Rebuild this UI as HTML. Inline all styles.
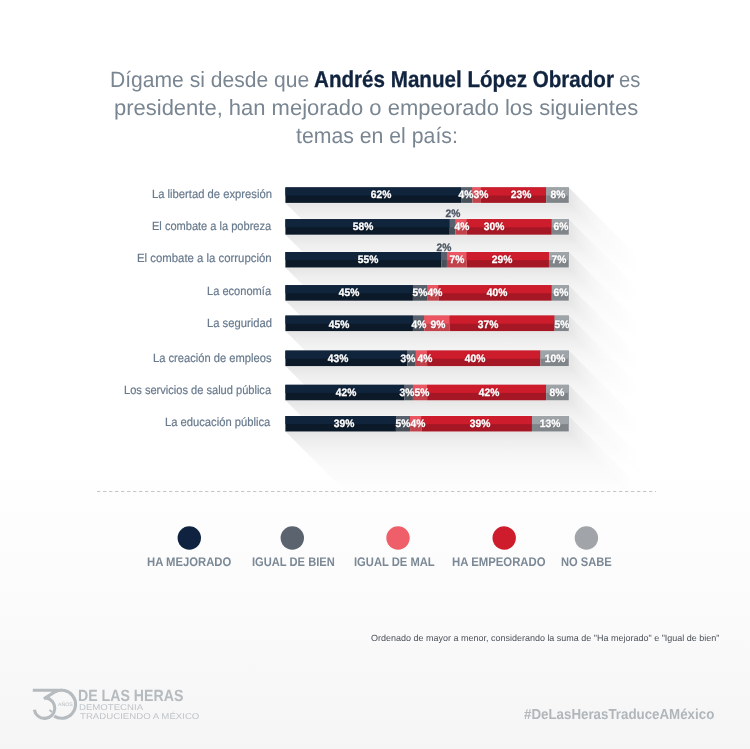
<!DOCTYPE html>
<html><head><meta charset="utf-8"><title>Encuesta</title>
<style>
html,body{margin:0;padding:0;overflow:hidden}
html{width:750px;height:749px}
body{width:750px;height:749px;overflow:hidden;position:relative;font-family:"Liberation Sans",sans-serif;text-rendering:geometricPrecision;
 background:linear-gradient(to bottom,#ffffff 0px,#ffffff 479.6px,#fefefe 479.6px,#fbfbfb 600px,#f5f5f5 749px)}
svg{position:absolute;left:0;top:0}
.t{position:absolute;white-space:nowrap;margin:0;padding:0}
.ttl{color:#798692}
.tb{color:#10233f;font-weight:700;-webkit-text-stroke:0.3px #10233f}
.lab{color:#687a8d;-webkit-text-stroke:0.2px #687a8d}
.val{color:#fff;font-weight:700;-webkit-text-stroke:0.3px #fff;text-shadow:0 0 1.5px rgba(0,0,0,.35)}
.val.dk{color:#4d5562;-webkit-text-stroke:0.3px #4d5562;text-shadow:none}
.leg{color:#7b8895;font-weight:700}
.fn{color:#4b5159}
.hash{color:#b1b6ba;font-weight:700}
.lg1{color:#b6bbbf;font-weight:700}
.lg2{color:#bfc4c8}
.lg3{color:#b6bbbf}
</style></head><body>
<svg width="750" height="749" viewBox="0 0 750 749">
<defs><linearGradient id="sv" x1="0" y1="0" x2="0" y2="1"><stop offset="0" stop-color="rgb(228,228,228)"/><stop offset="0.03" stop-color="rgb(231,231,231)"/><stop offset="0.06" stop-color="rgb(233,233,233)"/><stop offset="0.1" stop-color="rgb(236,236,236)"/><stop offset="0.15" stop-color="rgb(239,239,239)"/><stop offset="0.2" stop-color="rgb(241,241,241)"/><stop offset="0.25" stop-color="rgb(243,243,243)"/><stop offset="0.3" stop-color="rgb(245,245,245)"/><stop offset="0.4" stop-color="rgb(248,248,248)"/><stop offset="0.5" stop-color="rgb(250,250,250)"/><stop offset="0.6" stop-color="rgb(251,251,251)"/><stop offset="0.7" stop-color="rgb(252,252,252)"/><stop offset="0.85" stop-color="rgb(254,254,254)"/><stop offset="1" stop-color="rgb(255,255,255)"/></linearGradient><linearGradient id="sh" x1="0" y1="0" x2="1" y2="0"><stop offset="0" stop-color="rgb(228,228,228)"/><stop offset="0.03" stop-color="rgb(231,231,231)"/><stop offset="0.06" stop-color="rgb(233,233,233)"/><stop offset="0.1" stop-color="rgb(236,236,236)"/><stop offset="0.15" stop-color="rgb(239,239,239)"/><stop offset="0.2" stop-color="rgb(241,241,241)"/><stop offset="0.25" stop-color="rgb(243,243,243)"/><stop offset="0.3" stop-color="rgb(245,245,245)"/><stop offset="0.4" stop-color="rgb(248,248,248)"/><stop offset="0.5" stop-color="rgb(250,250,250)"/><stop offset="0.6" stop-color="rgb(251,251,251)"/><stop offset="0.7" stop-color="rgb(252,252,252)"/><stop offset="0.85" stop-color="rgb(254,254,254)"/><stop offset="1" stop-color="rgb(255,255,255)"/></linearGradient></defs>
<g style="mix-blend-mode:darken">
<polygon style="mix-blend-mode:darken" fill="url(#sv)" points="285.4,202.9 568.8,202.9 640.8,274.9 357.4,274.9"/>
<polygon style="mix-blend-mode:darken" fill="url(#sh)" points="568.8,187.4 640.8,259.4 640.8,275.9 568.8,203.9"/>
<polygon style="mix-blend-mode:darken" fill="url(#sv)" points="285.4,234.7 568.8,234.7 640.8,306.7 357.4,306.7"/>
<polygon style="mix-blend-mode:darken" fill="url(#sh)" points="568.8,219.2 640.8,291.2 640.8,307.7 568.8,235.7"/>
<polygon style="mix-blend-mode:darken" fill="url(#sv)" points="285.4,267.5 568.8,267.5 640.8,339.5 357.4,339.5"/>
<polygon style="mix-blend-mode:darken" fill="url(#sh)" points="568.8,252.0 640.8,324.0 640.8,340.5 568.8,268.5"/>
<polygon style="mix-blend-mode:darken" fill="url(#sv)" points="285.4,300.7 568.8,300.7 640.8,372.7 357.4,372.7"/>
<polygon style="mix-blend-mode:darken" fill="url(#sh)" points="568.8,285.2 640.8,357.2 640.8,373.7 568.8,301.7"/>
<polygon style="mix-blend-mode:darken" fill="url(#sv)" points="285.4,331.1 568.8,331.1 640.8,403.1 357.4,403.1"/>
<polygon style="mix-blend-mode:darken" fill="url(#sh)" points="568.8,315.6 640.8,387.6 640.8,404.1 568.8,332.1"/>
<polygon style="mix-blend-mode:darken" fill="url(#sv)" points="285.4,366.1 568.8,366.1 640.8,438.1 357.4,438.1"/>
<polygon style="mix-blend-mode:darken" fill="url(#sh)" points="568.8,350.6 640.8,422.6 640.8,439.1 568.8,367.1"/>
<polygon style="mix-blend-mode:darken" fill="url(#sv)" points="285.4,400.3 568.8,400.3 640.8,472.3 357.4,472.3"/>
<polygon style="mix-blend-mode:darken" fill="url(#sh)" points="568.8,384.8 640.8,456.8 640.8,473.3 568.8,401.3"/>
<polygon style="mix-blend-mode:darken" fill="url(#sv)" points="285.4,431.5 568.8,431.5 640.8,503.5 357.4,503.5"/>
<polygon style="mix-blend-mode:darken" fill="url(#sh)" points="568.8,416.0 640.8,488.0 640.8,504.5 568.8,432.5"/>
</g>
<rect x="284.7" y="186.70000000000002" width="284.79999999999995" height="16.9" fill="#fff" opacity="0.35"/>
<rect x="284.7" y="218.5" width="284.79999999999995" height="16.9" fill="#fff" opacity="0.35"/>
<rect x="284.7" y="251.3" width="284.79999999999995" height="16.9" fill="#fff" opacity="0.35"/>
<rect x="284.7" y="284.5" width="284.79999999999995" height="16.9" fill="#fff" opacity="0.35"/>
<rect x="284.7" y="314.90000000000003" width="284.79999999999995" height="16.9" fill="#fff" opacity="0.35"/>
<rect x="284.7" y="349.90000000000003" width="284.79999999999995" height="16.9" fill="#fff" opacity="0.35"/>
<rect x="284.7" y="384.1" width="284.79999999999995" height="16.9" fill="#fff" opacity="0.35"/>
<rect x="284.7" y="415.3" width="284.79999999999995" height="16.9" fill="#fff" opacity="0.35"/>
<rect x="285.40" y="187.4" width="175.71" height="15.5" fill="#0b1929"/>
<rect x="285.40" y="187.4" width="175.71" height="8.15" fill="#10243c"/>
<rect x="461.11" y="187.4" width="11.34" height="15.5" fill="#474f59"/>
<rect x="461.11" y="187.4" width="11.34" height="8.15" fill="#58616d"/>
<rect x="472.44" y="187.4" width="8.50" height="15.5" fill="#c2424c"/>
<rect x="472.44" y="187.4" width="8.50" height="8.15" fill="#ec5662"/>
<rect x="480.95" y="187.4" width="65.18" height="15.5" fill="#a51724"/>
<rect x="480.95" y="187.4" width="65.18" height="8.15" fill="#cd1c2c"/>
<rect x="546.13" y="187.4" width="22.67" height="15.5" fill="#80858a"/>
<rect x="546.13" y="187.4" width="22.67" height="8.15" fill="#9fa4a9"/>
<rect x="285.40" y="219.2" width="164.37" height="15.5" fill="#0b1929"/>
<rect x="285.40" y="219.2" width="164.37" height="8.15" fill="#10243c"/>
<rect x="449.77" y="219.2" width="5.67" height="15.5" fill="#474f59"/>
<rect x="449.77" y="219.2" width="5.67" height="8.15" fill="#58616d"/>
<rect x="455.44" y="219.2" width="11.34" height="15.5" fill="#c2424c"/>
<rect x="455.44" y="219.2" width="11.34" height="8.15" fill="#ec5662"/>
<rect x="466.78" y="219.2" width="85.02" height="15.5" fill="#a51724"/>
<rect x="466.78" y="219.2" width="85.02" height="8.15" fill="#cd1c2c"/>
<rect x="551.80" y="219.2" width="17.00" height="15.5" fill="#80858a"/>
<rect x="551.80" y="219.2" width="17.00" height="8.15" fill="#9fa4a9"/>
<rect x="285.40" y="252.0" width="155.87" height="15.5" fill="#0b1929"/>
<rect x="285.40" y="252.0" width="155.87" height="8.15" fill="#10243c"/>
<rect x="441.27" y="252.0" width="5.67" height="15.5" fill="#474f59"/>
<rect x="441.27" y="252.0" width="5.67" height="8.15" fill="#58616d"/>
<rect x="446.94" y="252.0" width="19.84" height="15.5" fill="#c2424c"/>
<rect x="446.94" y="252.0" width="19.84" height="8.15" fill="#ec5662"/>
<rect x="466.78" y="252.0" width="82.19" height="15.5" fill="#a51724"/>
<rect x="466.78" y="252.0" width="82.19" height="8.15" fill="#cd1c2c"/>
<rect x="548.96" y="252.0" width="19.84" height="15.5" fill="#80858a"/>
<rect x="548.96" y="252.0" width="19.84" height="8.15" fill="#9fa4a9"/>
<rect x="285.40" y="285.2" width="127.53" height="15.5" fill="#0b1929"/>
<rect x="285.40" y="285.2" width="127.53" height="8.15" fill="#10243c"/>
<rect x="412.93" y="285.2" width="14.17" height="15.5" fill="#474f59"/>
<rect x="412.93" y="285.2" width="14.17" height="8.15" fill="#58616d"/>
<rect x="427.10" y="285.2" width="11.34" height="15.5" fill="#c2424c"/>
<rect x="427.10" y="285.2" width="11.34" height="8.15" fill="#ec5662"/>
<rect x="438.44" y="285.2" width="113.36" height="15.5" fill="#a51724"/>
<rect x="438.44" y="285.2" width="113.36" height="8.15" fill="#cd1c2c"/>
<rect x="551.80" y="285.2" width="17.00" height="15.5" fill="#80858a"/>
<rect x="551.80" y="285.2" width="17.00" height="8.15" fill="#9fa4a9"/>
<rect x="285.40" y="315.6" width="127.53" height="15.5" fill="#0b1929"/>
<rect x="285.40" y="315.6" width="127.53" height="8.15" fill="#10243c"/>
<rect x="412.93" y="315.6" width="11.34" height="15.5" fill="#474f59"/>
<rect x="412.93" y="315.6" width="11.34" height="8.15" fill="#58616d"/>
<rect x="424.27" y="315.6" width="25.51" height="15.5" fill="#c2424c"/>
<rect x="424.27" y="315.6" width="25.51" height="8.15" fill="#ec5662"/>
<rect x="449.77" y="315.6" width="104.86" height="15.5" fill="#a51724"/>
<rect x="449.77" y="315.6" width="104.86" height="8.15" fill="#cd1c2c"/>
<rect x="554.63" y="315.6" width="14.17" height="15.5" fill="#80858a"/>
<rect x="554.63" y="315.6" width="14.17" height="8.15" fill="#9fa4a9"/>
<rect x="285.40" y="350.6" width="121.86" height="15.5" fill="#0b1929"/>
<rect x="285.40" y="350.6" width="121.86" height="8.15" fill="#10243c"/>
<rect x="407.26" y="350.6" width="8.50" height="15.5" fill="#474f59"/>
<rect x="407.26" y="350.6" width="8.50" height="8.15" fill="#58616d"/>
<rect x="415.76" y="350.6" width="11.34" height="15.5" fill="#c2424c"/>
<rect x="415.76" y="350.6" width="11.34" height="8.15" fill="#ec5662"/>
<rect x="427.10" y="350.6" width="113.36" height="15.5" fill="#a51724"/>
<rect x="427.10" y="350.6" width="113.36" height="8.15" fill="#cd1c2c"/>
<rect x="540.46" y="350.6" width="28.34" height="15.5" fill="#80858a"/>
<rect x="540.46" y="350.6" width="28.34" height="8.15" fill="#9fa4a9"/>
<rect x="285.40" y="384.8" width="119.03" height="15.5" fill="#0b1929"/>
<rect x="285.40" y="384.8" width="119.03" height="8.15" fill="#10243c"/>
<rect x="404.43" y="384.8" width="8.50" height="15.5" fill="#474f59"/>
<rect x="404.43" y="384.8" width="8.50" height="8.15" fill="#58616d"/>
<rect x="412.93" y="384.8" width="14.17" height="15.5" fill="#c2424c"/>
<rect x="412.93" y="384.8" width="14.17" height="8.15" fill="#ec5662"/>
<rect x="427.10" y="384.8" width="119.03" height="15.5" fill="#a51724"/>
<rect x="427.10" y="384.8" width="119.03" height="8.15" fill="#cd1c2c"/>
<rect x="546.13" y="384.8" width="22.67" height="15.5" fill="#80858a"/>
<rect x="546.13" y="384.8" width="22.67" height="8.15" fill="#9fa4a9"/>
<rect x="285.40" y="416.0" width="110.53" height="15.5" fill="#0b1929"/>
<rect x="285.40" y="416.0" width="110.53" height="8.15" fill="#10243c"/>
<rect x="395.93" y="416.0" width="14.17" height="15.5" fill="#474f59"/>
<rect x="395.93" y="416.0" width="14.17" height="8.15" fill="#58616d"/>
<rect x="410.10" y="416.0" width="11.34" height="15.5" fill="#c2424c"/>
<rect x="410.10" y="416.0" width="11.34" height="8.15" fill="#ec5662"/>
<rect x="421.43" y="416.0" width="110.53" height="15.5" fill="#a51724"/>
<rect x="421.43" y="416.0" width="110.53" height="8.15" fill="#cd1c2c"/>
<rect x="531.96" y="416.0" width="36.84" height="15.5" fill="#80858a"/>
<rect x="531.96" y="416.0" width="36.84" height="8.15" fill="#9fa4a9"/>
<circle cx="189.3" cy="538" r="11.7" fill="#0f2340"/>
<circle cx="292.3" cy="538" r="11.7" fill="#5b636f"/>
<circle cx="398.0" cy="538" r="11.7" fill="#ef5f69"/>
<circle cx="504.2" cy="538" r="11.7" fill="#cf1c2c"/>
<circle cx="586.4" cy="538" r="11.7" fill="#a1a5a9"/>
<line x1="97" y1="491.5" x2="656" y2="491.5" stroke="#c4c6c8" stroke-width="1" stroke-dasharray="3.4 2.6"/>
<path d="M32.8,690.3 H57.2 L43.9,698.9" fill="none" stroke="#b6bbbf" stroke-width="3.1" stroke-linejoin="miter"/>
<path d="M45.93,697.90 A10.3,10.3 0 1 1 34.33,709.71" fill="none" stroke="#b6bbbf" stroke-width="3.1"/>
<path d="M52.2,711.9 L49.4,710.0" fill="none" stroke="#b6bbbf" stroke-width="1.8"/>
<path d="M55.03,691.94 A14.0,14.0 0 1 1 54.18,716.17" fill="none" stroke="#b6bbbf" stroke-width="3.1"/>
</svg>
<div class="t ttl" style="left:110.28px;top:69.10px;font-size:22px;line-height:22px;transform:scaleX(0.9583);transform-origin:0 0;">Dígame si desde que</div>
<div class="t ttl tb" style="left:313.91px;top:68.10px;font-size:23px;line-height:23px;transform:scaleX(0.8959);transform-origin:0 0;">Andrés Manuel López Obrador</div>
<div class="t ttl" style="left:618.77px;top:69.10px;font-size:22px;line-height:22px;transform:scaleX(0.9167);transform-origin:0 0;">es</div>
<div class="t ttl" style="left:113.60px;top:97.10px;font-size:22px;line-height:22px;transform:scaleX(0.9990);transform-origin:0 0;">presidente, han mejorado o empeorado los siguientes</div>
<div class="t ttl" style="left:296.11px;top:125.10px;font-size:22px;line-height:22px;transform:scaleX(0.9658);transform-origin:0 0;">temas en el país:</div>
<div class="t lab" style="left:151.51px;top:188.10px;font-size:12px;line-height:12px;transform:scaleX(0.9363);transform-origin:0 0;">La libertad de expresión</div>
<div class="t val" style="left:340.70px;width:80px;text-align:center;top:190.10px;font-size:10.8px;line-height:10.8px;transform:scaleX(.95);">62%</div>
<div class="t val" style="left:426.40px;width:80px;text-align:center;top:190.10px;font-size:10.8px;line-height:10.8px;transform:scaleX(.95);">4%</div>
<div class="t val" style="left:440.80px;width:80px;text-align:center;top:190.10px;font-size:10.8px;line-height:10.8px;transform:scaleX(.95);">3%</div>
<div class="t val" style="left:481.00px;width:80px;text-align:center;top:190.10px;font-size:10.8px;line-height:10.8px;transform:scaleX(.95);">23%</div>
<div class="t val" style="left:517.50px;width:80px;text-align:center;top:190.10px;font-size:10.8px;line-height:10.8px;transform:scaleX(.95);">8%</div>
<div class="t lab" style="left:151.53px;top:220.10px;font-size:12px;line-height:12px;transform:scaleX(0.9206);transform-origin:0 0;">El combate a la pobreza</div>
<div class="t val" style="left:323.30px;width:80px;text-align:center;top:222.10px;font-size:10.8px;line-height:10.8px;transform:scaleX(.95);">58%</div>
<div class="t val dk" style="left:412.60px;width:80px;text-align:center;top:209.10px;font-size:10.8px;line-height:10.8px;transform:scaleX(.95);">2%</div>
<div class="t val" style="left:422.00px;width:80px;text-align:center;top:222.10px;font-size:10.8px;line-height:10.8px;transform:scaleX(.95);">4%</div>
<div class="t val" style="left:454.00px;width:80px;text-align:center;top:222.10px;font-size:10.8px;line-height:10.8px;transform:scaleX(.95);">30%</div>
<div class="t val" style="left:520.80px;width:80px;text-align:center;top:222.10px;font-size:10.8px;line-height:10.8px;transform:scaleX(.95);">6%</div>
<div class="t lab" style="left:136.80px;top:252.10px;font-size:12px;line-height:12px;transform:scaleX(0.9476);transform-origin:0 0;">El combate a la corrupción</div>
<div class="t val" style="left:328.40px;width:80px;text-align:center;top:255.10px;font-size:10.8px;line-height:10.8px;transform:scaleX(.95);">55%</div>
<div class="t val dk" style="left:403.60px;width:80px;text-align:center;top:243.10px;font-size:10.8px;line-height:10.8px;transform:scaleX(.95);">2%</div>
<div class="t val" style="left:416.50px;width:80px;text-align:center;top:255.10px;font-size:10.8px;line-height:10.8px;transform:scaleX(.95);">7%</div>
<div class="t val" style="left:462.00px;width:80px;text-align:center;top:255.10px;font-size:10.8px;line-height:10.8px;transform:scaleX(.95);">29%</div>
<div class="t val" style="left:518.50px;width:80px;text-align:center;top:255.10px;font-size:10.8px;line-height:10.8px;transform:scaleX(.95);">7%</div>
<div class="t lab" style="left:206.62px;top:285.10px;font-size:12px;line-height:12px;transform:scaleX(0.9233);transform-origin:0 0;">La economía</div>
<div class="t val" style="left:309.20px;width:80px;text-align:center;top:288.10px;font-size:10.8px;line-height:10.8px;transform:scaleX(.95);">45%</div>
<div class="t val" style="left:380.00px;width:80px;text-align:center;top:288.10px;font-size:10.8px;line-height:10.8px;transform:scaleX(.95);">5%</div>
<div class="t val" style="left:394.80px;width:80px;text-align:center;top:288.10px;font-size:10.8px;line-height:10.8px;transform:scaleX(.95);">4%</div>
<div class="t val" style="left:457.00px;width:80px;text-align:center;top:288.10px;font-size:10.8px;line-height:10.8px;transform:scaleX(.95);">40%</div>
<div class="t val" style="left:520.80px;width:80px;text-align:center;top:288.10px;font-size:10.8px;line-height:10.8px;transform:scaleX(.95);">6%</div>
<div class="t lab" style="left:206.51px;top:317.10px;font-size:12px;line-height:12px;transform:scaleX(0.9357);transform-origin:0 0;">La seguridad</div>
<div class="t val" style="left:299.30px;width:80px;text-align:center;top:320.10px;font-size:10.8px;line-height:10.8px;transform:scaleX(.95);">45%</div>
<div class="t val" style="left:378.80px;width:80px;text-align:center;top:320.10px;font-size:10.8px;line-height:10.8px;transform:scaleX(.95);">4%</div>
<div class="t val" style="left:397.70px;width:80px;text-align:center;top:320.10px;font-size:10.8px;line-height:10.8px;transform:scaleX(.95);">9%</div>
<div class="t val" style="left:447.70px;width:80px;text-align:center;top:320.10px;font-size:10.8px;line-height:10.8px;transform:scaleX(.95);">37%</div>
<div class="t val" style="left:522.20px;width:80px;text-align:center;top:320.10px;font-size:10.8px;line-height:10.8px;transform:scaleX(.95);">5%</div>
<div class="t lab" style="left:152.62px;top:352.10px;font-size:12px;line-height:12px;transform:scaleX(0.9298);transform-origin:0 0;">La creación de empleos</div>
<div class="t val" style="left:298.30px;width:80px;text-align:center;top:354.10px;font-size:10.8px;line-height:10.8px;transform:scaleX(.95);">43%</div>
<div class="t val" style="left:367.70px;width:80px;text-align:center;top:354.10px;font-size:10.8px;line-height:10.8px;transform:scaleX(.95);">3%</div>
<div class="t val" style="left:384.50px;width:80px;text-align:center;top:354.10px;font-size:10.8px;line-height:10.8px;transform:scaleX(.95);">4%</div>
<div class="t val" style="left:434.80px;width:80px;text-align:center;top:354.10px;font-size:10.8px;line-height:10.8px;transform:scaleX(.95);">40%</div>
<div class="t val" style="left:514.50px;width:80px;text-align:center;top:354.10px;font-size:10.8px;line-height:10.8px;transform:scaleX(.95);">10%</div>
<div class="t lab" style="left:123.62px;top:384.10px;font-size:12px;line-height:12px;transform:scaleX(0.9224);transform-origin:0 0;">Los servicios de salud pública</div>
<div class="t val" style="left:306.00px;width:80px;text-align:center;top:388.10px;font-size:10.8px;line-height:10.8px;transform:scaleX(.95);">42%</div>
<div class="t val" style="left:367.00px;width:80px;text-align:center;top:388.10px;font-size:10.8px;line-height:10.8px;transform:scaleX(.95);">3%</div>
<div class="t val" style="left:382.00px;width:80px;text-align:center;top:388.10px;font-size:10.8px;line-height:10.8px;transform:scaleX(.95);">5%</div>
<div class="t val" style="left:449.00px;width:80px;text-align:center;top:388.10px;font-size:10.8px;line-height:10.8px;transform:scaleX(.95);">42%</div>
<div class="t val" style="left:516.80px;width:80px;text-align:center;top:388.10px;font-size:10.8px;line-height:10.8px;transform:scaleX(.95);">8%</div>
<div class="t lab" style="left:165.41px;top:416.10px;font-size:12px;line-height:12px;transform:scaleX(0.9334);transform-origin:0 0;">La educación pública</div>
<div class="t val" style="left:304.20px;width:80px;text-align:center;top:419.10px;font-size:10.8px;line-height:10.8px;transform:scaleX(.95);">39%</div>
<div class="t val" style="left:363.00px;width:80px;text-align:center;top:419.10px;font-size:10.8px;line-height:10.8px;transform:scaleX(.95);">5%</div>
<div class="t val" style="left:377.50px;width:80px;text-align:center;top:419.10px;font-size:10.8px;line-height:10.8px;transform:scaleX(.95);">4%</div>
<div class="t val" style="left:440.00px;width:80px;text-align:center;top:419.10px;font-size:10.8px;line-height:10.8px;transform:scaleX(.95);">39%</div>
<div class="t val" style="left:509.60px;width:80px;text-align:center;top:419.10px;font-size:10.8px;line-height:10.8px;transform:scaleX(.95);">13%</div>
<div class="t leg" style="left:146.98px;top:556.10px;font-size:12.5px;line-height:12.5px;transform:scaleX(0.9027);transform-origin:0 0;">HA MEJORADO</div>
<div class="t leg" style="left:251.99px;top:556.10px;font-size:12.5px;line-height:12.5px;transform:scaleX(0.8914);transform-origin:0 0;">IGUAL DE BIEN</div>
<div class="t leg" style="left:354.48px;top:556.10px;font-size:12.5px;line-height:12.5px;transform:scaleX(0.8954);transform-origin:0 0;">IGUAL DE MAL</div>
<div class="t leg" style="left:451.67px;top:556.10px;font-size:12.5px;line-height:12.5px;transform:scaleX(0.9086);transform-origin:0 0;">HA EMPEORADO</div>
<div class="t leg" style="left:560.89px;top:556.10px;font-size:12.5px;line-height:12.5px;transform:scaleX(0.8913);transform-origin:0 0;">NO SABE</div>
<div class="t fn" style="left:370.50px;top:634.10px;font-size:9px;line-height:9px;transform:scaleX(0.9987);transform-origin:0 0;">Ordenado de mayor a menor, considerando la suma de "Ha mejorado" e "Igual de bien"</div>
<div class="t hash" style="left:524.11px;top:708.10px;font-size:14.4px;line-height:14.4px;transform:scaleX(0.9256);transform-origin:0 0;">#DeLasHerasTraduceAMéxico</div>
<div class="t lg1" style="left:78.38px;top:688.10px;font-size:16.2px;line-height:16.2px;transform:scaleX(0.8743);transform-origin:0 0;">DE LAS HERAS</div>
<div class="t lg2" style="left:78.55px;top:703.10px;font-size:8.4px;line-height:8.4px;transform:scaleX(1.1472);transform-origin:0 0;">DEMOTECNIA</div>
<div class="t lg2" style="left:79.53px;top:712.10px;font-size:8.4px;line-height:8.4px;transform:scaleX(1.1502);transform-origin:0 0;">TRADUCIENDO A MÉXICO</div>
<div class="t lg3" style="left:58.20px;top:704.10px;font-size:4.9px;line-height:4.9px;transform:scaleX(1.0696);transform-origin:0 0;">AÑOS</div>
</body></html>
